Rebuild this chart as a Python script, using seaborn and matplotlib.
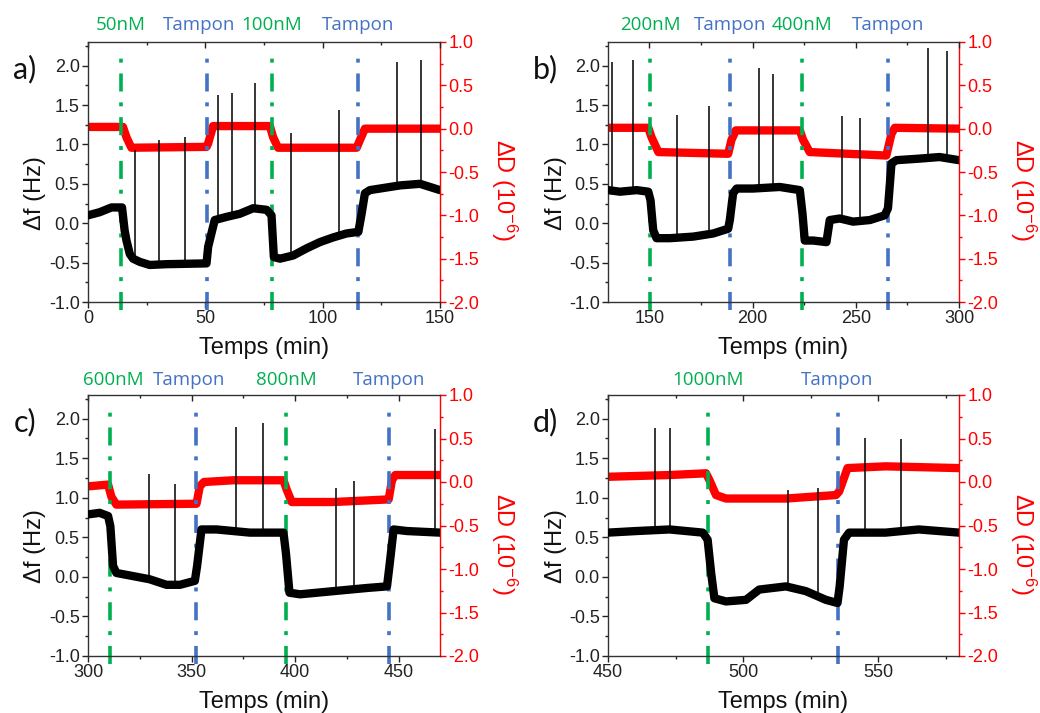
import numpy as np
import pandas as pd
import matplotlib
matplotlib.use("Agg")
import matplotlib.pyplot as plt
from matplotlib.ticker import MultipleLocator
import seaborn as sns


# ---------------- values ----------------
# a) 50 nM / 100 nM
A_T_DF = [0, 5, 10, 14.5, 15.6, 16.4, 17.8, 19.2, 22, 26.3, 33.4, 50.5, 51.2, 52.6, 54, 59,
          64.7, 70.4, 76.1, 78.2, 79.2, 81.8, 87.4, 93.1, 98.8, 104.5, 110.2, 115.2, 116.6,
          118, 120.1, 133, 141.5, 150]
A_DF = [0.10, 0.14, 0.20, 0.20, -0.09, -0.22, -0.39, -0.45, -0.49, -0.53, -0.52, -0.51, -0.30,
        -0.13, 0.04, 0.08, 0.12, 0.19, 0.17, 0.10, -0.43, -0.45, -0.41, -0.32, -0.24, -0.18,
        -0.13, -0.11, 0.12, 0.38, 0.42, 0.48, 0.50, 0.42]
A_T_DD = [0, 14.9, 16.4, 18.5, 50.5, 51.2, 53.3, 77.5, 78.9, 81, 114.5, 115.9, 118, 150]
A_DD = [0.02, 0.02, -0.10, -0.22, -0.21, -0.17, 0.03, 0.03, -0.10, -0.22, -0.22, -0.13, 0.0, 0.0]
A_SPIKE_T = [19.9, 30.1, 41.5, 55.5, 61.4, 71.2, 86.3, 106.8, 131.8, 142.0]
A_SPIKE_H = [0.93, 1.06, 1.10, 1.63, 1.65, 1.78, 1.14, 1.44, 2.05, 2.07]
A_EVENT_T = [14.0, 50.5, 78.4, 115.2]
A_EVENTS = ["50nM", "Tampon", "100nM", "Tampon"]

# b) 200 nM / 400 nM
B_T_DF = [130, 135.8, 143.9, 149.5, 150.6, 151.9, 153.5, 160, 171.3, 181, 188.2, 189, 190.6,
          192.3, 200.3, 213.2, 222.9, 224.2, 225.3, 229.4, 235.8, 237.4, 242.3, 248.7, 256.8,
          264, 265.6, 267.3, 269.7, 281, 290.6, 300]
B_DF = [0.42, 0.40, 0.42, 0.40, 0.29, -0.09, -0.19, -0.19, -0.17, -0.13, -0.07, 0.04, 0.38,
        0.44, 0.44, 0.46, 0.42, 0.12, -0.22, -0.22, -0.24, 0.04, 0.06, 0.02, 0.04, 0.10, 0.19,
        0.76, 0.80, 0.82, 0.84, 0.80]
B_T_DD = [130, 149.5, 151.1, 154.4, 188.2, 189.8, 191.9, 222.9, 224.5, 227.7, 264.8, 267.3,
          268.9, 300]
B_DD = [0.01, 0.01, -0.10, -0.27, -0.29, -0.13, -0.02, -0.02, -0.13, -0.27, -0.31, -0.06,
        0.01, 0.0]
B_SPIKE_T = [131.8, 141.9, 163.2, 178.9, 203.2, 209.7, 243.5, 252.1, 284.8, 294.4]
B_SPIKE_H = [2.05, 2.07, 1.37, 1.49, 1.97, 1.89, 1.36, 1.34, 2.22, 2.18]
B_EVENT_T = [150.5, 189.0, 224.2, 265.6]
B_EVENTS = ["200nM", "Tampon", "400nM", "Tampon"]

# c) 600 nM / 800 nM
C_T_DF = [300, 305.6, 309.7, 310.8, 312.1, 313.7, 321.8, 329.8, 337.9, 344.4, 351.6, 352.7,
          354.8, 362.1, 378.2, 394.4, 395.6, 397.3, 402.4, 418.5, 434.7, 444.4, 445.6, 447.6,
          454, 470]
C_DF = [0.79, 0.81, 0.77, 0.64, 0.14, 0.05, 0.01, -0.03, -0.10, -0.10, -0.05, 0.14, 0.60,
        0.60, 0.56, 0.56, 0.30, -0.20, -0.22, -0.18, -0.14, -0.12, 0.14, 0.60, 0.58, 0.56]
C_T_DD = [300, 309.7, 311.3, 313.7, 352.4, 354, 356, 370.2, 394.4, 396, 398.4, 418.5, 445.2,
          446.8, 448.4, 470]
C_DD = [-0.05, -0.03, -0.17, -0.26, -0.25, -0.05, 0.0, 0.02, 0.02, -0.09, -0.23, -0.23,
        -0.20, 0.02, 0.08, 0.08]
C_SPIKE_T = [329.5, 341.9, 371.5, 384.7, 419.7, 428.7, 467.4]
C_SPIKE_H = [1.30, 1.18, 1.89, 1.94, 1.13, 1.21, 1.87]
C_EVENT_T = [310.8, 352.4, 395.7, 445.5]
C_EVENTS = ["600nM", "Tampon", "800nM", "Tampon"]

# d) 1000 nM
D_T_DF = [450, 460.5, 472.8, 485.1, 486.9, 488.2, 489.4, 493.7, 501.1, 506, 515.9, 523.3,
          530.7, 535, 535.8, 537.4, 539.3, 552.8, 565.1, 580]
D_DF = [0.56, 0.58, 0.60, 0.56, 0.47, 0.05, -0.27, -0.31, -0.29, -0.16, -0.12, -0.18, -0.29,
        -0.33, -0.12, 0.47, 0.56, 0.56, 0.60, 0.56]
D_T_DD = [450, 472.8, 486.3, 487.6, 490, 493.7, 516, 534.4, 535.6, 538.7, 552.8, 580]
D_DD = [0.06, 0.08, 0.10, 0.02, -0.15, -0.19, -0.19, -0.15, -0.11, 0.16, 0.18, 0.16]
D_SPIKE_T = [467.4, 473.0, 516.6, 527.6, 545.0, 558.5]
D_SPIKE_H = [1.88, 1.88, 1.10, 1.12, 1.76, 1.74]
D_EVENT_T = [487.2, 535.0]
D_EVENTS = ["1000nM", "Tampon"]

XLIMS = {"a": (0, 150), "b": (130, 300), "c": (300, 470), "d": (450, 580)}


# ---------------- style ----------------
GREEN = "#00B050"
BLUE = "#4472C4"
RED = "#FF0000"

sns.set_theme(style="ticks")
plt.rcParams["font.family"] = ["Liberation Sans", "DejaVu Sans"]
plt.rcParams["axes.unicode_minus"] = False
plt.rcParams["mathtext.fontset"] = "custom"
plt.rcParams["mathtext.rm"] = "Liberation Sans"
plt.rcParams["mathtext.default"] = "regular"

TICK_FS = 13
LABEL_FS = 17
EVENT_FS = 13.5
PANEL_FS = 22
TRACE_LW = 6

panels = [
    ("a", [88 / 1040, 411 / 713, 352 / 1040, 260 / 713],
     A_T_DF, A_DF, A_T_DD, A_DD, A_SPIKE_T, A_SPIKE_H, A_EVENT_T, A_EVENTS, [0, -5, 0, 0], 12.5),
    ("b", [608 / 1040, 411 / 713, 351 / 1040, 260 / 713],
     B_T_DF, B_DF, B_T_DD, B_DD, B_SPIKE_T, B_SPIKE_H, B_EVENT_T, B_EVENTS, [0, 0, 0, 0], 12.5),
    ("c", [88 / 1040, 57 / 713, 352 / 1040, 261 / 713],
     C_T_DF, C_DF, C_T_DD, C_DD, C_SPIKE_T, C_SPIKE_H, C_EVENT_T, C_EVENTS, [2, -5, 0, 0], 11),
    ("d", [608 / 1040, 57 / 713, 351 / 1040, 261 / 713],
     D_T_DF, D_DF, D_T_DD, D_DD, D_SPIKE_T, D_SPIKE_H, D_EVENT_T, D_EVENTS, [0, 0], 11),
]

fig = plt.figure(figsize=(10.4, 7.13), dpi=100, facecolor="white")

for (name, rect, t_df, df, t_dd, dd, sp_t, sp_h, ev_t, ev_lab, nudge, ev_y) in panels:
    ax = fig.add_axes(rect)
    ax2 = ax.twinx()
    ax.set_zorder(ax2.get_zorder() + 1)
    ax.patch.set_visible(False)

    # dissipation (red, right axis)
    dd_frame = pd.DataFrame({"t": t_dd, "dD": dd})
    sns.lineplot(data=dd_frame, x="t", y="dD", ax=ax2, color=RED, lw=TRACE_LW,
                 estimator=None, solid_joinstyle="round")

    # event markers
    for t, lab in zip(ev_t, ev_lab):
        col = BLUE if lab == "Tampon" else GREEN
        ax.axvline(t, ymin=-0.03, ymax=0.97, color=col, lw=2.6, clip_on=False,
                   dashes=(5, 3, 1.1, 3), zorder=1)

    # frequency (black, left axis)
    df_frame = pd.DataFrame({"t": t_df, "df": df})
    sns.lineplot(data=df_frame, x="t", y="df", ax=ax, color="black", lw=TRACE_LW,
                 estimator=None, solid_joinstyle="round", zorder=3)
    base = np.interp(sp_t, t_df, df)
    ax.vlines(sp_t, base, sp_h, color="black", lw=1.1, zorder=3)

    # event labels above the frame
    for t, lab, dx in zip(ev_t, ev_lab, nudge):
        col = BLUE if lab == "Tampon" else GREEN
        ax.annotate(lab, xy=(t, 1), xycoords=("data", "axes fraction"),
                    xytext=(dx, ev_y), textcoords="offset points", ha="center",
                    va="center", color=col, fontsize=EVENT_FS, family="Open Sans",
                    annotation_clip=False)

    # axes limits and ticks
    ax.set_xlim(*XLIMS[name])
    ax.set_ylim(-1.0, 2.3)
    ax2.set_ylim(-2.0, 1.0)
    ax.xaxis.set_major_locator(MultipleLocator(50))
    ax.xaxis.set_minor_locator(MultipleLocator(25))
    ax.yaxis.set_major_locator(MultipleLocator(0.5))
    ax.yaxis.set_minor_locator(MultipleLocator(0.25))
    ax2.yaxis.set_major_locator(MultipleLocator(0.5))
    ax2.yaxis.set_minor_locator(MultipleLocator(0.25))
    ax.yaxis.set_major_formatter("{x:.1f}")
    ax2.yaxis.set_major_formatter("{x:.1f}")

    ax.tick_params(which="major", direction="out", length=4, width=1, labelsize=TICK_FS,
                   colors="#222222", pad=2)
    ax.tick_params(which="minor", direction="out", length=2.5, width=1, colors="#222222")
    ax2.tick_params(which="major", direction="out", length=4, width=1, labelsize=TICK_FS,
                    colors=RED, pad=2)
    ax2.tick_params(which="minor", direction="out", length=2.5, width=1, colors=RED)

    top = ax.secondary_xaxis("top")
    top.xaxis.set_major_locator(MultipleLocator(50))
    top.xaxis.set_minor_locator(MultipleLocator(25))
    top.tick_params(which="major", direction="in", length=4, width=1, labeltop=False,
                    colors="#222222")
    top.tick_params(which="minor", direction="in", length=2.5, width=1, colors="#222222")
    top.spines["top"].set_visible(False)

    for s in ["left", "bottom", "top"]:
        ax.spines[s].set_color("#333333")
        ax.spines[s].set_linewidth(1)
    ax.spines["right"].set_visible(False)
    for s in ["left", "bottom", "top"]:
        ax2.spines[s].set_visible(False)
    ax2.spines["right"].set_color(RED)
    ax2.spines["right"].set_linewidth(1)

    ax.set_xlabel("Temps (min)", fontsize=LABEL_FS, color="#111111", labelpad=7)
    ax.set_ylabel("Δf (Hz)", fontsize=LABEL_FS, color="#111111")
    ax.yaxis.set_label_coords(-0.118, 0.42)
    ax2.set_ylabel("ΔD (10$^{-6}$)", fontsize=LABEL_FS, color=RED, rotation=270,
                   va="bottom")
    ax2.yaxis.set_label_coords(1.14, 0.43)

    fig.text(rect[0] - 63 / 1040, rect[1] + rect[3] - 27 / 713, name + ")",
             fontsize=PANEL_FS, family="Lato", ha="center", va="center", color="#111111")

fig.savefig("out.png", dpi=100, facecolor="white")
